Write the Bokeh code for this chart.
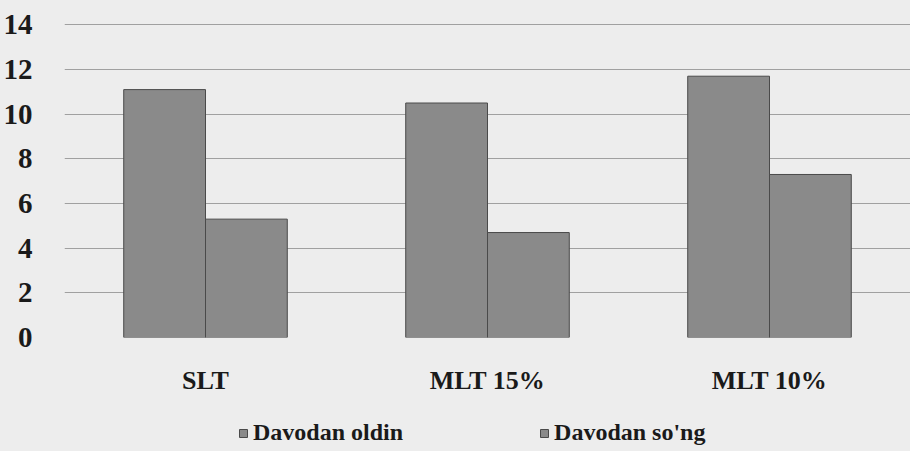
from bokeh.plotting import figure
from bokeh.models import ColumnDataSource, FactorRange, Legend, LegendItem, FixedTicker, Range1d
from bokeh.transform import dodge
from bokeh.layouts import column
from bokeh.embed import file_html
from bokeh.resources import INLINE

categories = ["SLT", "MLT 15%", "MLT 10%"]
series_names = ["Davodan oldin", "Davodan so'ng"]
before = [11.1, 10.5, 11.7]
after = [5.3, 4.7, 7.3]
y_ticks = [0, 2, 4, 6, 8, 10, 12, 14]

BG = "#ededed"
FONT = "Liberation Serif"
BAR_FILL = "#8a8a8a"
BAR_LINE = "#4a4a4a"

src = ColumnDataSource(dict(cat=categories, before=before, after=after))

p = figure(x_range=FactorRange(*categories), y_range=Range1d(0, 14.06),
           width=910, height=397, output_backend="svg", toolbar_location=None,
           min_border_left=63, min_border_right=0, min_border_top=23, min_border_bottom=56)

p.background_fill_color = BG
p.border_fill_color = BG
p.outline_line_color = None

bar_kw = dict(width=0.29, source=src, fill_color=BAR_FILL, line_color=BAR_LINE, line_width=1)
r1 = p.vbar(x=dodge('cat', -0.145, range=p.x_range), top='before', **bar_kw)
r2 = p.vbar(x=dodge('cat', 0.145, range=p.x_range), top='after', **bar_kw)

p.xgrid.grid_line_color = None
p.ygrid.grid_line_color = "#a0a0a0"
p.ygrid.grid_line_width = 1
p.yaxis.ticker = FixedTicker(ticks=y_ticks)
p.yaxis.axis_line_color = None
p.yaxis.major_tick_line_color = None
p.yaxis.minor_tick_line_color = None
p.yaxis.major_label_standoff = 26
p.yaxis.major_label_text_font = FONT
p.yaxis.major_label_text_font_style = "bold"
p.yaxis.major_label_text_font_size = "29px"
p.yaxis.major_label_text_color = "#1a1a1a"

p.xaxis.axis_line_color = None
p.xaxis.major_tick_line_color = None
p.xaxis.minor_tick_line_color = None
p.xaxis.major_label_standoff = 22
p.xaxis.major_label_text_font = FONT
p.xaxis.major_label_text_font_style = "bold"
p.xaxis.major_label_text_font_size = "26px"
p.xaxis.major_label_text_color = "#1a1a1a"

# legend strip below the chart
lg = figure(x_range=(0, 1), y_range=(0, 1), width=910, height=54,
            output_backend="svg", toolbar_location=None,
            min_border_left=63, min_border_right=0, min_border_top=0, min_border_bottom=0)
lg.axis.visible = False
lg.grid.grid_line_color = None
lg.outline_line_color = None
lg.background_fill_color = BG
lg.border_fill_color = BG
d1 = lg.vbar(x=[5], top=[5], width=0.1, fill_color=BAR_FILL, line_color=BAR_LINE)
d2 = lg.vbar(x=[5], top=[5], width=0.1, fill_color=BAR_FILL, line_color=BAR_LINE)

legend = Legend(items=[LegendItem(label=series_names[0], renderers=[d1]),
                       LegendItem(label=series_names[1], renderers=[d2])],
                orientation="horizontal", location=(174, 5), spacing=136,
                glyph_width=10, glyph_height=10, label_standoff=5,
                label_text_font=FONT, label_text_font_style="bold",
                label_text_font_size="24px", label_text_color="#1a1a1a",
                background_fill_alpha=0, border_line_color=None, margin=0, padding=0)
lg.add_layout(legend, "center")

layout = column(p, lg, spacing=0, styles={"background-color": BG})
open("out.html", "w").write(file_html(layout, INLINE))
